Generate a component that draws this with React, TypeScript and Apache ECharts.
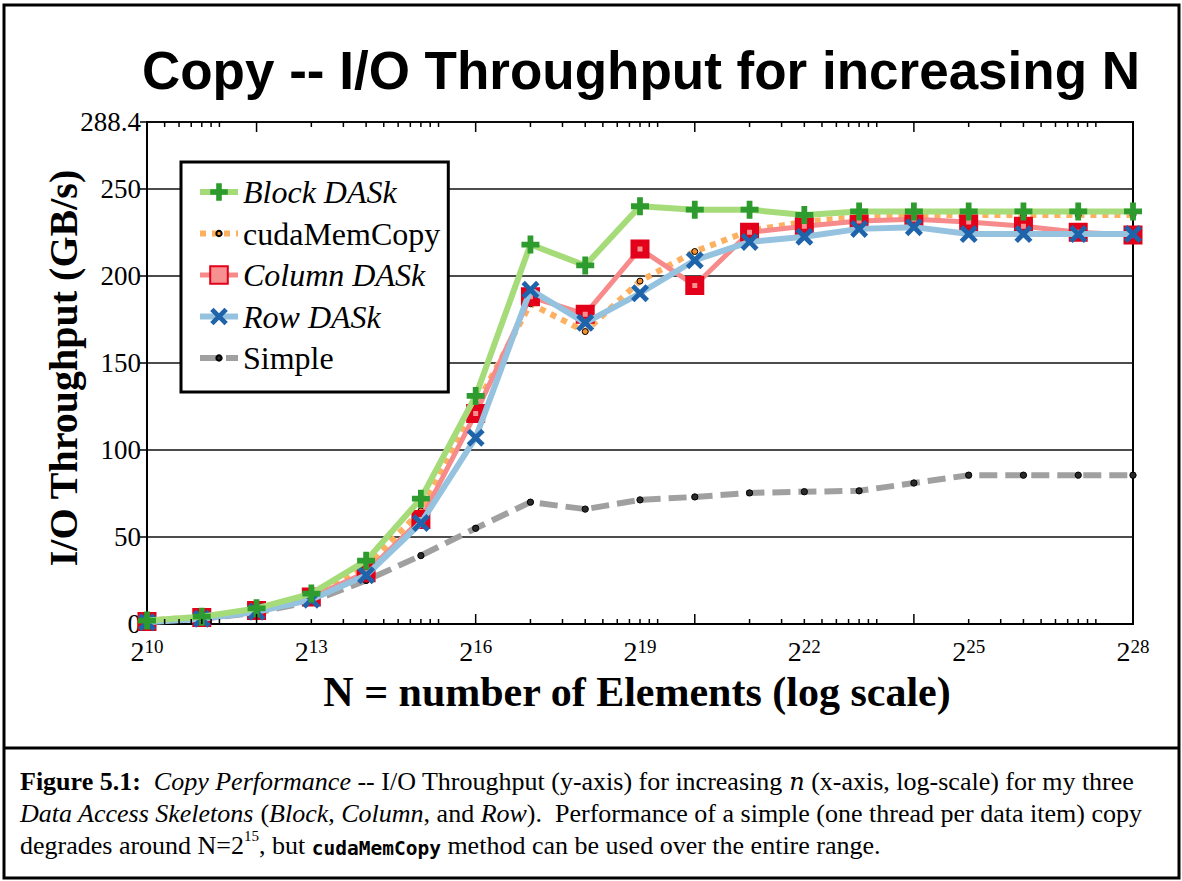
import React, { useEffect, useRef } from 'react';
import * as echarts from 'echarts';

// ---- data (log2 of N, throughput in GB/s) ----
const EXPONENTS = [10, 11, 12, 13, 14, 15, 16, 17, 18, 19, 20, 21, 22, 23, 24, 25, 26, 27, 28];
const BLOCK = [2, 4.2, 9, 17.5, 36.4, 72, 131, 218, 206, 240, 238, 238, 235, 237, 237, 237, 237, 237, 237];
const CUDA = [2, 4, 8, 16, 33, 65, 125, 184, 168, 197, 214, 226, 231, 234, 235, 235, 235, 235, 235];
const COLUMN = [1.5, 3.8, 7.8, 15.5, 29.5, 60, 121, 188, 178, 215.5, 194.5, 225, 228.5, 231.5, 232.5, 231, 228.5, 225, 223.5];
const ROW = [1, 3, 7, 14, 28, 58, 107, 192, 173, 190, 209, 219.5, 222.5, 227, 228, 224, 224, 224, 224];
const SIMPLE = [1.5, 3, 6.5, 13, 25, 39.3, 55, 70, 66, 71.3, 73, 75.3, 76, 76.5, 81, 85.5, 85.5, 85.5, 85.5];

const SERIES_NAMES = ['Block DASk', 'cudaMemCopy', 'Column DASk', 'Row DASk', 'Simple'];
const ITALIC_NAMES = ['Block DASk', 'Column DASk', 'Row DASk'];

const X_FIRST_EXP = 10;
const X_LAST_EXP = 28;
const X_LABEL_STEP = 3;
const Y_MAX = 288.4;
const Y_STEP = 50;
const MAJOR_TICK_EXPS = [12, 16, 20, 24, 28];
const MINOR_TICK_MULTIPLIERS = [2, 3, 4, 5, 6, 7, 8, 9, 10];

const TITLE = 'Copy -- I/O Throughput for increasing N';
const X_NAME = 'N = number of Elements (log scale)';
const Y_NAME = 'I/O Throughput (GB/s)';

const SERIF = 'Liberation Serif';
const SANS = 'Liberation Sans';
const MONO = 'DejaVu Sans Mono';

const PLUS = 'path://M3.4,0H6.6V3.4H10V6.6H6.6V10H3.4V6.6H0V3.4H3.4Z';
const CROSS = 'path://M1.9,0L5,3.1L8.1,0L10,1.9L6.9,5L10,8.1L8.1,10L5,6.9L1.9,10L0,8.1L3.1,5L0,1.9Z';
// small dot inside a larger (invisible) box so that it stays small in the legend too
const DOT = 'path://M0,0L0,0M20,20L20,20M7,10A3,3,0,1,1,13,10A3,3,0,1,1,7,10Z';

function pairs(vals: number[]) {
  return EXPONENTS.map((e, i) => [e - X_FIRST_EXP, vals[i]]);
}

function tickData() {
  const out: number[][] = [];
  MAJOR_TICK_EXPS.forEach((e) => out.push([e - X_FIRST_EXP, 10]));
  for (let base = 8; base < X_LAST_EXP; base += 4) {
    MINOR_TICK_MULTIPLIERS.forEach((k) => {
      const e = base + Math.log2(k);
      if (e > X_FIRST_EXP && e < X_LAST_EXP && Math.abs(e - Math.round(e / 4) * 4) > 1e-6) {
        out.push([e - X_FIRST_EXP, 5]);
      }
    });
  }
  return out;
}

const CAP = 26;

export default function App() {
  const ref = useRef<HTMLDivElement>(null);
  useEffect(() => {
    document.body.style.margin = '0';
    if (!ref.current) return;
    const chart = echarts.init(ref.current, undefined, { renderer: 'svg' });

    const legendRich = {
      it: { fontSize: 32, fontFamily: SERIF, fontStyle: 'italic', color: '#000', lineHeight: 32 },
      up: { fontSize: 32, fontFamily: SERIF, fontStyle: 'normal', color: '#000', lineHeight: 32 },
    };

    const option: any = {
      animation: false,
      backgroundColor: '#fff',
      textStyle: { fontFamily: SERIF },
      grid: {
        left: 147,
        top: 122,
        width: 986,
        height: 502,
        show: true,
        borderColor: '#000',
        borderWidth: 2,
        backgroundColor: 'transparent',
      },
      xAxis: {
        type: 'value',
        min: 0,
        max: X_LAST_EXP - X_FIRST_EXP,
        interval: X_LABEL_STEP,
        axisLine: { show: true, lineStyle: { color: '#000', width: 2 } },
        axisTick: { show: false },
        splitLine: { show: false },
        axisLabel: {
          margin: 13,
          fontFamily: SERIF,
          formatter: (v: number) => `{b|2}{s|${v + X_FIRST_EXP}}`,
          rich: {
            b: { fontSize: 28, fontFamily: SERIF, color: '#000', lineHeight: 28, verticalAlign: 'bottom' },
            s: { fontSize: 19, fontFamily: SERIF, color: '#000', lineHeight: 28, verticalAlign: 'top' },
          },
        },
      },
      yAxis: {
        type: 'value',
        min: 0,
        max: Y_MAX,
        interval: Y_STEP,
        axisLine: { show: true, lineStyle: { color: '#000', width: 2 } },
        axisTick: { show: true, inside: false, length: 7, lineStyle: { color: '#000', width: 1.5 } },
        splitLine: { show: true, lineStyle: { color: '#111', width: 1.5 } },
        axisLabel: { fontSize: 27, fontFamily: SERIF, color: '#000', margin: 6, lineHeight: 16 },
      },
      legend: {
        left: 181,
        top: 162,
        orient: 'vertical',
        backgroundColor: '#fff',
        borderColor: '#000',
        borderWidth: 3,
        borderRadius: 0,
        padding: [14, 8, 18, 16],
        itemWidth: 38,
        itemHeight: 22,
        itemGap: 9.5,
        z: 20,
        lineStyle: { width: 'inherit' },
        formatter: (name: string) => (ITALIC_NAMES.includes(name) ? `{it|${name}}` : `{up|${name}}`),
        textStyle: { fontSize: 32, fontFamily: SERIF, color: '#000', lineHeight: 32, rich: legendRich },
        data: SERIES_NAMES,
      },
      series: [
        {
          name: 'Simple',
          type: 'line',
          z: 2,
          data: pairs(SIMPLE),
          symbol: DOT,
          symbolSize: 21,
          lineStyle: { color: '#a0a0a0', width: 6, type: [18, 8] },
          itemStyle: { color: '#2a2a2a', borderColor: '#000', borderWidth: 1 },
        },
        {
          name: 'cudaMemCopy',
          type: 'line',
          z: 3,
          data: pairs(CUDA),
          symbol: DOT,
          symbolSize: 20,
          lineStyle: { color: '#fdb060', width: 6, type: [6, 6] },
          itemStyle: { color: '#f5902a', borderColor: '#000', borderWidth: 1 },
        },
        {
          name: 'Column DASk',
          type: 'line',
          z: 4,
          data: pairs(COLUMN),
          symbol: 'rect',
          symbolSize: 12,
          lineStyle: { color: '#f78b8b', width: 5 },
          itemStyle: { color: '#f79090', borderColor: '#e2001a', borderWidth: 7 },
        },
        {
          name: 'Row DASk',
          type: 'line',
          z: 5,
          data: pairs(ROW),
          symbol: CROSS,
          symbolSize: 18,
          lineStyle: { color: '#95c3df', width: 6 },
          itemStyle: { color: '#1f64aa' },
        },
        {
          name: 'Block DASk',
          type: 'line',
          z: 6,
          data: pairs(BLOCK),
          symbol: PLUS,
          symbolSize: 18,
          lineStyle: { color: '#a5db79', width: 6 },
          itemStyle: { color: '#2e9b2e' },
        },
        {
          name: 'ticks',
          type: 'custom',
          z: 7,
          silent: true,
          clip: false,
          data: tickData(),
          encode: { x: 0, y: 1 },
          renderItem: (params: any, api: any) => {
            const x = api.value(0);
            const len = api.value(1);
            const b = api.coord([x, 0]);
            const t = api.coord([x, Y_MAX]);
            return {
              type: 'group',
              children: [
                { type: 'line', shape: { x1: b[0], y1: b[1], x2: b[0], y2: b[1] - len }, style: { stroke: '#000', lineWidth: 1.5 } },
                { type: 'line', shape: { x1: t[0], y1: t[1], x2: t[0], y2: t[1] + len }, style: { stroke: '#000', lineWidth: 1.5 } },
              ],
            };
          },
        },
      ],
      graphic: [
        { type: 'rect', z: 100, shape: { x: 4, y: 5, width: 1175, height: 873 }, style: { fill: 'none', stroke: '#000', lineWidth: 3 } },
        { type: 'line', z: 100, shape: { x1: 4, y1: 748, x2: 1179, y2: 748 }, style: { stroke: '#000', lineWidth: 3 } },
        {
          type: 'text', x: 641, y: 70,
          style: { text: TITLE, fontSize: 53, fontWeight: 'bold', fontFamily: SANS, fill: '#000', align: 'center', verticalAlign: 'middle', textAlign: 'center', textVerticalAlign: 'middle' },
        },
        {
          type: 'text', x: 637, y: 692,
          style: { text: X_NAME, fontSize: 42, fontWeight: 'bold', fontFamily: SERIF, fill: '#000', align: 'center', verticalAlign: 'middle', textAlign: 'center', textVerticalAlign: 'middle' },
        },
        {
          type: 'text', x: 63, y: 368, rotation: Math.PI / 2,
          style: { text: Y_NAME, fontSize: 40, fontWeight: 'bold', fontFamily: SERIF, fill: '#000', align: 'center', verticalAlign: 'middle', textAlign: 'center', textVerticalAlign: 'middle' },
        },
        ...[
          '{fb|Figure 5.1:}{n|  }{i|Copy Performance}{n| -- I/O Throughput (y-axis) for increasing }{m|n}{n| (x-axis, log-scale) for my three}',
          '{i|Data Access Skeletons}{n| (}{i|Block}{n|, }{i|Column}{n|, and }{i|Row}{n|).  Performance of a simple (one thread per data item) copy}',
          '{n|degrades around N=2}{sup|15}{n|, but }{code|cudaMemCopy}{n| method can be used over the entire range.}',
        ].map((t, i) => ({
          type: 'text',
          x: 20,
          y: 779 + i * 32,
          style: {
            text: t,
            fill: '#000',
            align: 'left',
            verticalAlign: 'middle',
            textAlign: 'left',
            textVerticalAlign: 'middle',
            fontSize: CAP,
            fontFamily: SERIF,
            rich: {
              n: { fontSize: CAP, fontFamily: SERIF, color: '#000', lineHeight: 30, verticalAlign: 'bottom' },
              i: { fontSize: CAP, fontFamily: SERIF, fontStyle: 'italic', color: '#000', lineHeight: 30, verticalAlign: 'bottom' },
              fb: { fontSize: CAP, fontFamily: SERIF, fontWeight: 'bold', color: '#000', lineHeight: 30, verticalAlign: 'bottom' },
              m: { fontSize: CAP - 2, fontFamily: 'DejaVu Serif', fontStyle: 'italic', color: '#000', lineHeight: 30, verticalAlign: 'bottom' },
              sup: { fontSize: 15, fontFamily: SERIF, color: '#000', lineHeight: 30, verticalAlign: 'top' },
              code: { fontSize: 19.5, fontFamily: MONO, fontWeight: 'bold', color: '#000', lineHeight: 30, verticalAlign: 'bottom' },
            },
          },
        })),
      ],
    };

    chart.setOption(option);
    return () => chart.dispose();
  }, []);

  return <div ref={ref} style={{ width: 1182, height: 881 }} />;
}
